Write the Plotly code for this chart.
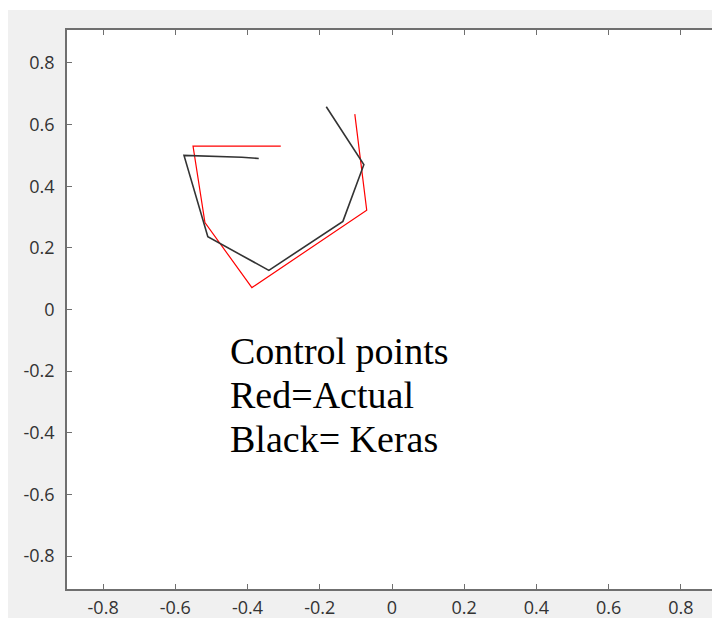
import plotly.graph_objects as go

# Control points
actual_x = [-0.308, -0.551, -0.518, -0.388, -0.070, -0.103]
actual_y = [0.530, 0.530, 0.282, 0.071, 0.322, 0.634]

keras_x = [-0.369, -0.416, -0.576, -0.510, -0.341, -0.136, -0.078, -0.182]
keras_y = [0.490, 0.494, 0.500, 0.236, 0.127, 0.286, 0.470, 0.658]

tick_vals = [-0.8, -0.6, -0.4, -0.2, 0, 0.2, 0.4, 0.6, 0.8]
tick_text = ["-0.8", "-0.6", "-0.4", "-0.2", "0", "0.2", "0.4", "0.6", "0.8"]

note_lines = ["Control points", "Red=Actual", "Black= Keras"]
note_y = [-0.135, -0.278, -0.421]

fig = go.Figure()
fig.add_trace(go.Scatter(x=actual_x, y=actual_y, mode="lines",
                         line=dict(color="#ff0000", width=1.2), showlegend=False))
fig.add_trace(go.Scatter(x=keras_x, y=keras_y, mode="lines",
                         line=dict(color="#333333", width=1.6), showlegend=False))

axis_common = dict(
    showgrid=False, zeroline=False, showline=True, linecolor="#6f6f6f", linewidth=1.5,
    mirror="ticks", ticks="inside", ticklen=5, tickwidth=1, tickcolor="#6f6f6f",
    tickvals=tick_vals, ticktext=tick_text, automargin=False,
    tickfont=dict(family="Open Sans", size=18, color="#333333"),
)

fig.update_xaxes(range=[-0.9, 0.9], ticklabelstandoff=2, **axis_common)
fig.update_yaxes(range=[-0.907, 0.907], ticklabelstandoff=7, **axis_common)

for txt, yy in zip(note_lines, note_y):
    fig.add_annotation(x=-0.453, y=yy, xref="x", yref="y", text=txt, showarrow=False,
                       xanchor="left", yanchor="middle",
                       font=dict(family="Liberation Serif", size=38, color="black"))

# thin white strip at the top of the grey figure background
fig.add_shape(type="rect", xref="paper", yref="paper",
              x0=-59/650, x1=1 + 3/650, y0=1 + 20/559, y1=1 + 22/559,
              fillcolor="white", line=dict(width=0))

fig.update_layout(
    width=712, height=610,
    margin=dict(l=59, r=3, t=22, b=29),
    paper_bgcolor="#f0f0f0", plot_bgcolor="white",
)

fig.write_html("out.html")
